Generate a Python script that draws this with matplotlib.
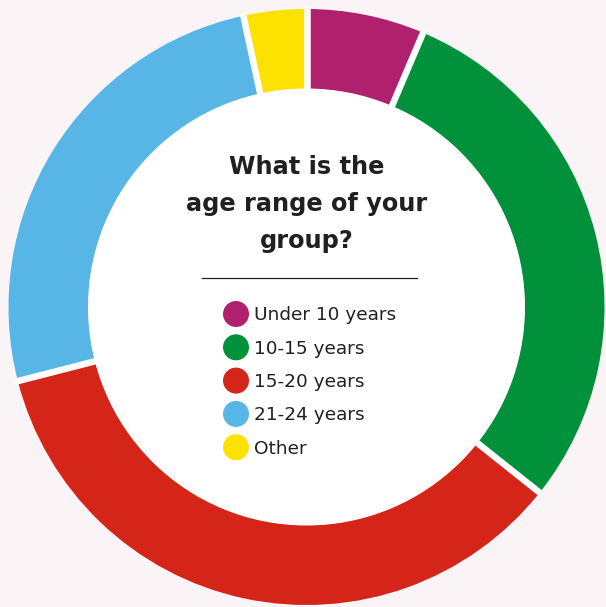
import matplotlib.pyplot as plt
import numpy as np
from matplotlib.patches import Circle

labels = ["Under 10 years", "10-15 years", "15-20 years", "21-24 years", "Other"]
values = [6.4, 29.3, 35.3, 25.6, 3.4]
colors = ["#b0206c", "#00913a", "#d52418", "#58b6e6", "#fde100"]
title = "What is the\nage range of your\ngroup?"

W, H = 606, 607
bg = "#faf4f7"
ink = "#231f20"

fig = plt.figure(figsize=(W / 100, H / 100), dpi=100, facecolor=bg)
ax = fig.add_axes([0, 0, 1, 1])
ax.set_facecolor(bg)

cx, cy = 306.5, H - 307
R, r = 298, 218

ax.pie(values, colors=colors, startangle=90, counterclock=False,
       radius=R, center=(cx, cy),
       wedgeprops=dict(width=R - r, linewidth=0))
ax.add_patch(Circle((cx, cy), r + 0.5, facecolor="white", edgecolor="none", zorder=2))

# white gaps between the segments
cum = np.cumsum([0] + values)
for c in cum[:-1]:
    th = np.deg2rad(90 - 360 * c / cum[-1])
    ax.plot([cx + (r - 3) * np.cos(th), cx + (R + 3) * np.cos(th)],
            [cy + (r - 3) * np.sin(th), cy + (R + 3) * np.sin(th)],
            color="white", lw=4.7, solid_capstyle="butt", zorder=3)

ax.text(cx, H - 204, title, ha="center", va="center", fontsize=17.3,
        fontweight="bold", color=ink, family="DejaVu Sans",
        linespacing=1.7, zorder=4)
ax.plot([202, 417], [H - 278, H - 278], color=ink, lw=0.9, zorder=4)

for i, (lab, col) in enumerate(zip(labels, colors)):
    y = H - (314 + i * 33.3)
    ax.add_patch(Circle((236, y), 13, facecolor=col, edgecolor="none", zorder=4))
    ax.text(254, y - 1.5, lab, ha="left", va="center", fontsize=13.3, color=ink,
            family="DejaVu Sans", zorder=4)

ax.set_xlim(0, W)
ax.set_ylim(0, H)
ax.set_aspect("equal")
ax.axis("off")

fig.savefig("out.png", dpi=100, facecolor=bg)
